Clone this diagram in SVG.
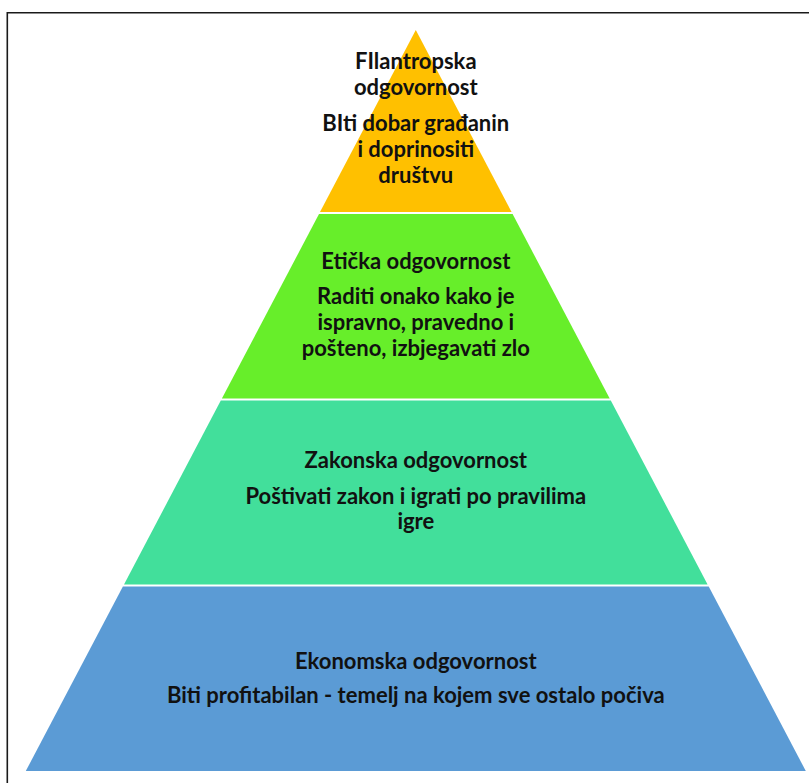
<svg xmlns="http://www.w3.org/2000/svg" width="809" height="783" viewBox="0 0 809 783">
  <style>
    .frame { stroke: #1a1a1a; stroke-width: 1.6; fill: none; }
    .t { font-family: Lato, "Liberation Sans", "DejaVu Sans", sans-serif; font-weight: bold; font-size: 22px; fill: #111111; text-anchor: middle; }
  </style>
  <rect x="0" y="0" width="809" height="783" fill="#ffffff"/>
  <g id="frame">
    <line class="frame" x1="7" y1="12.8" x2="809" y2="12.8"/>
    <line class="frame" x1="7.3" y1="12" x2="7.3" y2="783"/>
  </g>
  <g id="tier-filantropska">
    <polygon points="415.8,30 511.6,212 320,212" fill="#FFC000"/>
    <text class="t" x="415.8" y="69">FIlantropska</text>
    <text class="t" x="415.8" y="94.5">odgovornost</text>
    <text class="t" x="415.8" y="131">BIti dobar građanin</text>
    <text class="t" x="415.8" y="156.5">i doprinositi</text>
    <text class="t" x="415.8" y="182.5">društvu</text>
  </g>
  <g id="tier-eticka">
    <polygon points="319,214 512.6,214 609.7,398.5 221.9,398.5" fill="#67EE2A"/>
    <text class="t" x="415.8" y="269">Etička odgovornost</text>
    <text class="t" x="415.8" y="304">Raditi onako kako je</text>
    <text class="t" x="415.8" y="329.8">ispravno, pravedno i</text>
    <text class="t" x="415.8" y="355.6">pošteno, izbjegavati zlo</text>
  </g>
  <g id="tier-zakonska">
    <polygon points="220.8,400.5 610.8,400.5 707.6,584.5 124,584.5" fill="#42DF9B"/>
    <text class="t" x="415.8" y="468">Zakonska odgovornost</text>
    <text class="t" x="415.8" y="503.5">Poštivati zakon i igrati po pravilima</text>
    <text class="t" x="415.8" y="529">igre</text>
  </g>
  <g id="tier-ekonomska">
    <polygon points="122.9,586.5 708.7,586.5 805.8,771 25.8,771" fill="#5B9BD5"/>
    <text class="t" x="415.8" y="668.5">Ekonomska odgovornost</text>
    <text class="t" x="415.8" y="703">Biti profitabilan - temelj na kojem sve ostalo počiva</text>
  </g>
  <g id="connectors"/>
</svg>
